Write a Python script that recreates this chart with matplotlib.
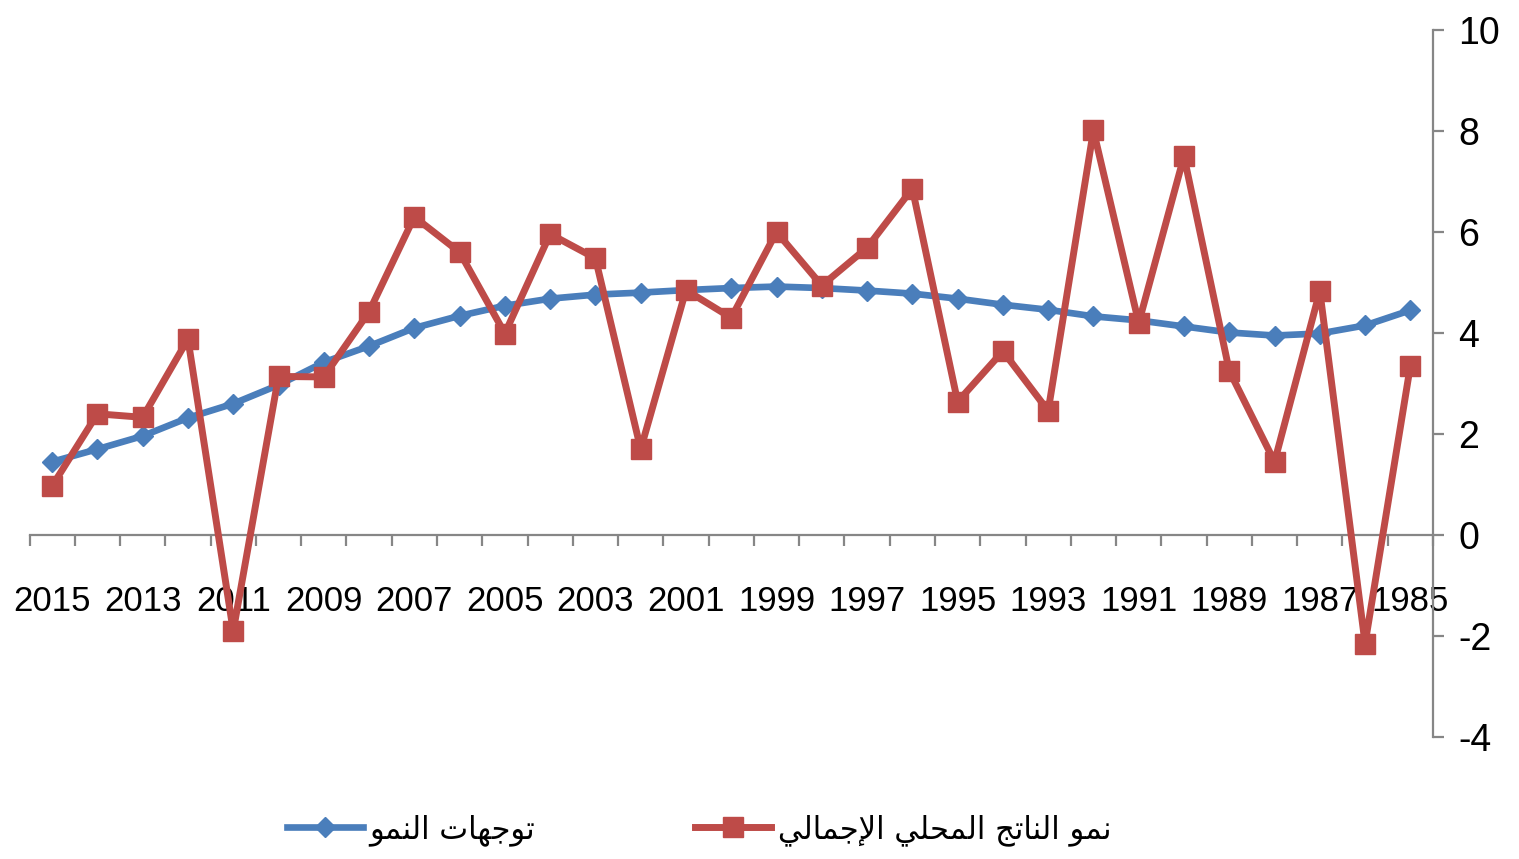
import matplotlib
matplotlib.use("Agg")
import matplotlib.pyplot as plt
from matplotlib.lines import Line2D

# ---------------- data ----------------
years = list(range(2015, 1984, -1))
gdp_growth = [0.97, 2.40, 2.33, 3.88, -1.90, 3.14, 3.13, 4.42, 6.30, 5.60,
              3.99, 5.96, 5.48, 1.70, 4.85, 4.30, 6.00, 4.94, 5.69, 6.86,
              2.64, 3.64, 2.46, 8.01, 4.20, 7.50, 3.25, 1.45, 4.83, -2.15, 3.35]
growth_trend = [1.45, 1.70, 1.96, 2.32, 2.60, 2.97, 3.42, 3.74, 4.10, 4.34,
                4.54, 4.68, 4.76, 4.80, 4.85, 4.89, 4.92, 4.89, 4.84, 4.78,
                4.68, 4.56, 4.46, 4.33, 4.25, 4.13, 4.01, 3.95, 3.99, 4.15, 4.45]
xtick_years = list(range(2015, 1984, -2))
yticks = [-4, -2, 0, 2, 4, 6, 8, 10]
label_trend = "توجهات النمو"
label_gdp = "نمو الناتج المحلي الإجمالي"

# ------------- minimal Arabic shaping (matplotlib has no shaping) -------------
_FORMS = {
    'ا': (0xFE8D, 0xFE8E, None, None),
    'إ': (0xFE87, 0xFE88, None, None),
    'و': (0xFEED, 0xFEEE, None, None),
    'ت': (0xFE95, 0xFE96, 0xFE97, 0xFE98),
    'ج': (0xFE9D, 0xFE9E, 0xFE9F, 0xFEA0),
    'ح': (0xFEA1, 0xFEA2, 0xFEA3, 0xFEA4),
    'ل': (0xFEDD, 0xFEDE, 0xFEDF, 0xFEE0),
    'م': (0xFEE1, 0xFEE2, 0xFEE3, 0xFEE4),
    'ن': (0xFEE5, 0xFEE6, 0xFEE7, 0xFEE8),
    'ه': (0xFEE9, 0xFEEA, 0xFEEB, 0xFEEC),
    'ي': (0xFEF1, 0xFEF2, 0xFEF3, 0xFEF4),
}
_LAMALEF = {'ا': (0xFEFB, 0xFEFC), 'إ': (0xFEF9, 0xFEFA)}


def _dual(c):
    return c in _FORMS and _FORMS[c][2] is not None


def shape_arabic(text):
    chars = list(text)
    out = []
    i = 0
    while i < len(chars):
        c = chars[i]
        prev = chars[i - 1] if i > 0 else ' '
        join_prev = _dual(prev) and c in _FORMS
        if c == 'ل' and i + 1 < len(chars) and chars[i + 1] in _LAMALEF:
            iso, fin = _LAMALEF[chars[i + 1]]
            out.append(chr(fin if join_prev else iso))
            i += 2
            continue
        if c not in _FORMS:
            out.append(c)
            i += 1
            continue
        nxt = chars[i + 1] if i + 1 < len(chars) else ' '
        join_next = _dual(c) and nxt in _FORMS
        iso, fin, ini, med = _FORMS[c]
        if join_prev and join_next:
            cp = med
        elif join_prev:
            cp = fin
        elif join_next:
            cp = ini
        else:
            cp = iso
        out.append(chr(cp))
        i += 1
    return ''.join(out)[::-1]


# ---------------- figure ----------------
BLUE = '#4A7EBB'
RED = '#BE4B48'
GRAY = '#868686'

plt.rcParams['font.family'] = ['Liberation Sans', 'DejaVu Sans']

fig = plt.figure(figsize=(15.19, 8.59), dpi=100)
ax = fig.add_axes([29.5 / 1519, 1 - 737 / 859, (1433 - 29.5) / 1519, (737 - 30) / 859])

ax.plot(years, growth_trend, color=BLUE, lw=4.8, marker='D', ms=10,
        mec=BLUE, mfc=BLUE, zorder=3, solid_joinstyle='round')
ax.plot(years, gdp_growth, color=RED, lw=5, marker='s', ms=15,
        mec=RED, mfc=RED, zorder=4, solid_joinstyle='round')

ax.set_xlim(2015.5, 1984.5)
ax.set_ylim(-4, 10)

for s in ['left', 'top']:
    ax.spines[s].set_visible(False)
ax.spines['bottom'].set_position(('data', 0))
ax.spines['bottom'].set_color(GRAY)
ax.spines['bottom'].set_linewidth(1.6)
ax.spines['right'].set_color(GRAY)
ax.spines['right'].set_linewidth(1.6)

# category boundary ticks (no labels) and labels at every other year
ax.set_xticks([y + 0.5 for y in years] + [years[-1] - 0.5])
ax.set_xticklabels([])
ax.set_xticks(xtick_years, minor=True)
ax.set_xticklabels([str(y) for y in xtick_years], minor=True)
ax.tick_params(axis='x', which='major', direction='out', length=8, width=1.6, color=GRAY)
ax.tick_params(axis='x', which='minor', length=0, pad=36, labelsize=25, labelcolor='black')

ax.yaxis.tick_right()
ax.set_yticks(yticks)
ax.set_yticklabels([str(v) for v in yticks])
ax.tick_params(axis='y', which='major', direction='out', length=8, width=1.6, color=GRAY,
               pad=10, labelsize=27, labelcolor='black')

# legends (two separate entries, placed like the original)
h_blue = Line2D([], [], color=BLUE, lw=4.8, marker='D', ms=10)
h_red = Line2D([], [], color=RED, lw=5, marker='s', ms=15)
leg_kw = dict(frameon=False, loc='center left', borderpad=0, borderaxespad=0,
              handlelength=2.5, handletextpad=0.2,
              prop={'family': 'DejaVu Sans', 'size': 22})
leg1 = fig.legend([h_blue], [shape_arabic(label_trend)],
                  bbox_to_anchor=(287 / 1519, 1 - 830 / 859), **leg_kw)
leg2 = fig.legend([h_red], [shape_arabic(label_gdp)],
                  bbox_to_anchor=(695 / 1519, 1 - 830 / 859), **leg_kw)

fig.savefig('out.png', dpi=100, facecolor='white')
